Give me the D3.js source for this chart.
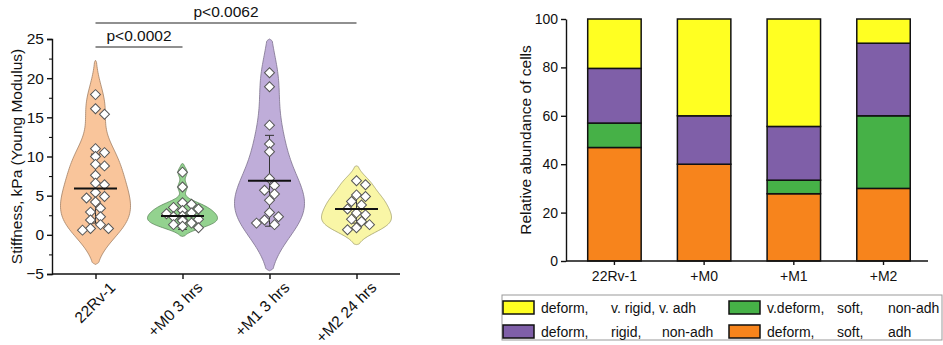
<!DOCTYPE html>
<html>
<head>
<meta charset="utf-8">
<script src="https://cdn.jsdelivr.net/npm/d3@7"></script>
<style>
	body { margin: 0; background: #fff; }
	text { font-family: "Liberation Sans", Arial, sans-serif; fill: #111; }
</style>
</head>
<body>
<svg width="943" height="345"></svg>
<script>
// violin panel data
var groups = ["22Rv-1", "+M0 3 hrs", "+M1 3 hrs", "+M2 24 hrs"];
var stiff22Rv1 = [17.9, 16.1, 15.4, 11.0, 10.5, 10.0, 9.0, 8.8, 7.6, 6.6, 6.4, 5.4, 4.9, 4.7, 4.2, 3.4, 2.9, 2.3, 1.9, 1.3, 0.8, 0.8, 0.6];
var stiffM0 = [8.0, 6.1, 4.1, 3.9, 3.5, 3.3, 3.1, 2.8, 2.7, 2.4, 2.3, 2.0, 1.9, 1.8, 1.5, 1.3, 1.1, 0.9];
var stiffM1 = [20.7, 18.9, 14.0, 11.6, 10.6, 7.2, 6.3, 5.7, 5.2, 4.4, 2.85, 2.3, 1.9, 1.5, 1.3];
var stiffM2 = [6.9, 6.4, 5.1, 4.9, 4.25, 3.8, 3.3, 2.8, 2.55, 2.0, 1.7, 1.3, 0.9, 0.65];
var centerVals = [5.9, 2.4, 6.9, 3.3];
var sdVals = [4.4, 1.7, 5.8, 1.8];
var violinColors = ["#f9c59b", "#93d28f", "#bfadd9", "#f9f6a6"];
var pLabels = ["p<0.0002", "p<0.0062"];
var pFrom = [0, 0];
var pTo = [1, 3];

// stacked bar panel data
var barCats = ["22Rv-1", "+M0", "+M1", "+M2"];
var orangeVals = [46.9, 40, 27.8, 30];
var greenVals = [10.1, 0, 5.6, 30];
var purpleVals = [22.6, 20, 22.2, 30];
var yellowVals = [20.4, 40, 44.4, 10];
var seriesKeys = ["orange", "green", "purple", "yellow"];
var seriesColors = {orange: "#f7841c", green: "#46b147", purple: "#7f5fa8", yellow: "#ffff22"};
var legendKeys = ["yellow", "green", "purple", "orange"];
var legendLabels = [
	["deform,", "v. rigid, v. adh"],
	["v.deform,", "soft,", "non-adh"],
	["deform,", "rigid,", "non-adh"],
	["deform,", "soft,", "adh"]
];

var svg = d3.select("svg");

// ---------- left: violins ----------
var allStiff = [stiff22Rv1, stiffM0, stiffM1, stiffM2];

var x = d3.scalePoint().domain(groups).range([52, 400]).padding(0.5);
var y = d3.scaleLinear().domain([-5, 25]).range([274, 39]);

var g = svg.append("g");

function silverman(v) {
	var sd = d3.deviation(v);
	var s = v.slice().sort(d3.ascending);
	var iqr = d3.quantile(s, 0.75) - d3.quantile(s, 0.25);
	return 0.9 * Math.min(sd, iqr / 1.34) * Math.pow(v.length, -0.2);
}

allStiff.forEach(function(vals, i) {
	var bw = silverman(vals);
	var lo = Math.max(-5, d3.min(vals) - 1.8 * bw);
	var hi = Math.min(25, d3.max(vals) + 1.8 * bw);
	var grid = d3.range(0, 101).map(function(k) { return lo + (hi - lo) * k / 100; });
	var dens = grid.map(function(t) {
		return d3.sum(vals, function(v) { return Math.exp(-0.5 * Math.pow((t - v) / bw, 2)); });
	});
	var dmax = d3.max(dens);
	var w = d3.scaleLinear().domain([0, dmax]).range([0, 35]);
	var pts = grid.map(function(t, k) { return {v: t, d: dens[k]}; });
	pts[0].d = 0;
	pts[pts.length - 1].d = 0;
	var cx = x(groups[i]);
	var area = d3.area()
		.y(function(d) { return y(d.v); })
		.x0(function(d) { return cx - w(d.d); })
		.x1(function(d) { return cx + w(d.d); })
		.curve(d3.curveMonotoneY);
	g.append("path")
		.attr("d", area(pts))
		.attr("fill", violinColors[i])
		.attr("stroke", d3.color(violinColors[i]).darker(1.2))
		.attr("stroke-width", 0.8);
});

// error bars (mean +/- sd)
groups.forEach(function(name, i) {
	var cx = x(name);
	var top = y(centerVals[i] + sdVals[i]), bot = y(centerVals[i] - sdVals[i]);
	g.append("line").attr("x1", cx).attr("x2", cx).attr("y1", top).attr("y2", bot)
		.attr("stroke", "#333").attr("stroke-width", 1);
	[top, bot].forEach(function(yy) {
		g.append("line").attr("x1", cx - 4.5).attr("x2", cx + 4.5).attr("y1", yy).attr("y2", yy)
			.attr("stroke", "#333").attr("stroke-width", 1);
	});
});

// points with a simple dodge so they do not sit on top of each other
var diamond = d3.symbol().type(d3.symbolSquare).size(50);
allStiff.forEach(function(vals, i) {
	var cx = x(groups[i]);
	var placed = [];
	vals.forEach(function(v) {
		var py = y(v);
		var offs = [0, 5, -5, 9, -9, 13, -13, 16, -16];
		var px = cx;
		for (var k = 0; k < offs.length; k++) {
			var ok = placed.every(function(p) {
				return Math.hypot(p[0] - (cx + offs[k]), p[1] - py) >= 7.5;
			});
			if (ok) { px = cx + offs[k]; break; }
		}
		placed.push([px, py]);
	});
	g.selectAll(".pt" + i)
		.data(placed)
		.enter().append("path")
		.attr("d", diamond)
		.attr("transform", function(d) { return "translate(" + d[0] + "," + d[1] + ") rotate(45)"; })
		.attr("fill", "#fff")
		.attr("stroke", "#555")
		.attr("stroke-width", 1);
});

// median lines
groups.forEach(function(name, i) {
	var cx = x(name);
	g.append("line")
		.attr("x1", cx - 21.5).attr("x2", cx + 21.5)
		.attr("y1", y(centerVals[i])).attr("y2", y(centerVals[i]))
		.attr("stroke", "#111").attr("stroke-width", 2);
});

// axes
var yAxL = g.append("g")
	.attr("transform", "translate(52,0)")
	.call(d3.axisLeft(y).tickValues(d3.range(-5, 26, 5)).tickSize(5).tickPadding(3));
g.append("g")
	.attr("transform", "translate(52,0)")
	.call(d3.axisLeft(y).tickValues(d3.range(-2.5, 25, 5)).tickSize(3).tickFormat(""))
	.select(".domain").remove();
var xAxL = g.append("g")
	.attr("transform", "translate(0,274)")
	.call(d3.axisBottom(x).tickSize(5).tickSizeOuter(0));
xAxL.select(".domain").attr("d", "M52,0H400");
xAxL.selectAll("text")
	.attr("text-anchor", "end")
	.attr("transform", "translate(6,-2) rotate(-45)")
	.attr("dx", "-0.1em")
	.attr("dy", "0.9em");
[yAxL, xAxL].forEach(function(a) {
	a.selectAll(".domain, line").attr("stroke", "#111").attr("stroke-width", 1.4);
	a.selectAll("text").style("font-size", "15.5px").attr("fill", "#111");
});

g.append("text")
	.attr("transform", "translate(22," + ((y(25) + y(-5)) / 2) + ") rotate(-90)")
	.attr("text-anchor", "middle")
	.style("font-size", "15.5px")
	.text("Stiffness, kPa (Young Modulus)");

// significance lines
var pY = [47, 23];
pLabels.forEach(function(lab, k) {
	var x1 = x(groups[pFrom[k]]), x2 = x(groups[pTo[k]]);
	g.append("line").attr("x1", x1).attr("x2", x2).attr("y1", pY[k]).attr("y2", pY[k])
		.attr("stroke", "#222").attr("stroke-width", 1.2);
	g.append("text")
		.attr("x", (x1 + x2) / 2).attr("y", pY[k] - 6)
		.attr("text-anchor", "middle")
		.style("font-size", "15.5px")
		.text(lab);
});

// ---------- right: stacked bars ----------
var rows = barCats.map(function(c, i) {
	return {cat: c, orange: orangeVals[i], green: greenVals[i], purple: purpleVals[i], yellow: yellowVals[i]};
});
var stack = d3.stack().keys(seriesKeys)(rows);

var xb = d3.scaleBand().domain(barCats).range([566, 928]).paddingInner(0.404).paddingOuter(0.22).align(0.55);
var yb = d3.scaleLinear().domain([0, 100]).range([261, 19]);

var gb = svg.append("g");
stack.forEach(function(layer) {
	gb.selectAll(".bar-" + layer.key)
		.data(layer)
		.enter().append("rect")
		.attr("x", function(d) { return xb(d.data.cat); })
		.attr("width", xb.bandwidth())
		.attr("y", function(d) { return yb(d[1]); })
		.attr("height", function(d) { return yb(d[0]) - yb(d[1]); })
		.attr("fill", seriesColors[layer.key])
		.attr("stroke", "#111")
		.attr("stroke-width", 1.5);
});

var yAxR = gb.append("g")
	.attr("transform", "translate(566,0)")
	.call(d3.axisLeft(yb).tickValues(d3.range(0, 101, 20)).tickSize(5).tickSizeOuter(0).tickPadding(3));
var xAxR = gb.append("g")
	.attr("transform", "translate(0,261)")
	.call(d3.axisBottom(xb).tickSize(4).tickSizeOuter(0).tickPadding(6));
xAxR.select(".domain").attr("d", "M566,0H928");
[yAxR, xAxR].forEach(function(a) {
	a.selectAll(".domain, line").attr("stroke", "#111").attr("stroke-width", 1.4);
	a.selectAll("text").style("font-size", "14px").attr("fill", "#111");
});

gb.append("text")
	.attr("transform", "translate(531," + ((yb(0) + yb(100)) / 2) + ") rotate(-90)")
	.attr("text-anchor", "middle")
	.style("font-size", "15.5px")
	.text("Relative abundance of cells");

// legend
var lg = svg.append("g");
lg.append("rect")
	.attr("x", 502).attr("y", 295).attr("width", 440).attr("height", 45)
	.attr("fill", "#fff").attr("stroke", "#999").attr("stroke-width", 1);
var legX = [503, 729];
var legY = [301, 325];
var tabs = [0, 70, 121];
legendKeys.forEach(function(key, i) {
	var col = i % 2, row = Math.floor(i / 2);
	lg.append("rect")
		.attr("x", legX[col]).attr("y", legY[row])
		.attr("width", 31).attr("height", 13)
		.attr("fill", seriesColors[key])
		.attr("stroke", "#111").attr("stroke-width", 1.5);
	var t = lg.append("text")
		.attr("y", legY[row] + 11.5)
		.style("font-size", "14px");
	legendLabels[i].forEach(function(part, k) {
		t.append("tspan").attr("x", legX[col] + 38 + tabs[k]).text(part);
	});
});
</script>
</body>
</html>
